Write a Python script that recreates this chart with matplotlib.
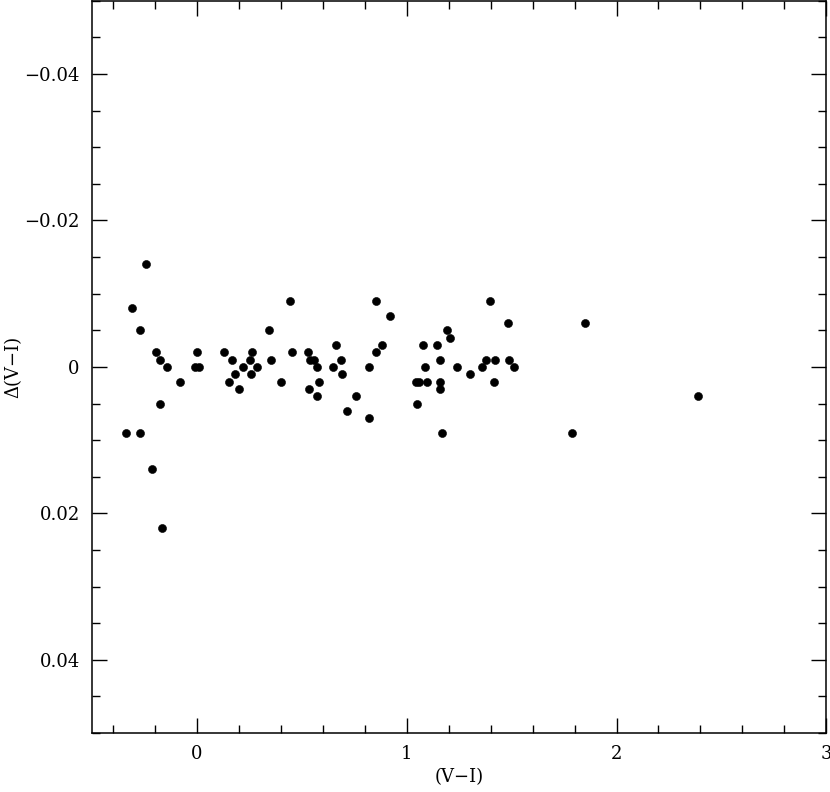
import numpy as np
import matplotlib.pyplot as plt
from matplotlib.ticker import MultipleLocator

# colour (V-I) and residual Delta(V-I)
vi = [-0.34, -0.31, -0.27, -0.27, -0.243, -0.215, -0.196, -0.177, -0.177, -0.167,
      -0.143, -0.081, -0.01, 0.01, 0.0, 0.129, 0.165, 0.153, 0.181, 0.2,
      0.221, 0.263, 0.251, 0.256, 0.288, 0.344, 0.353, 0.40, 0.442, 0.455,
      0.527, 0.54, 0.56, 0.536, 0.571, 0.582, 0.571, 0.649, 0.662, 0.687,
      0.69, 0.714, 0.76, 0.818, 0.821, 0.853, 0.853, 0.883, 0.92, 1.044,
      1.049, 1.06, 1.077, 1.087, 1.095, 1.144, 1.158, 1.158, 1.157, 1.168,
      1.193, 1.206, 1.238, 1.302, 1.359, 1.376, 1.399, 1.418, 1.421, 1.481,
      1.488, 1.512, 1.79, 1.851, 2.387]
dvi = [0.009, -0.008, -0.005, 0.009, -0.014, 0.014, -0.002, -0.001, 0.005, 0.022,
       0.0, 0.002, 0.0, 0.0, -0.002, -0.002, -0.001, 0.002, 0.001, 0.003,
       0.0, -0.002, -0.001, 0.001, 0.0, -0.005, -0.001, 0.002, -0.009, -0.002,
       -0.002, -0.001, -0.001, 0.003, 0.0, 0.002, 0.004, 0.0, -0.003, -0.001,
       0.001, 0.006, 0.004, 0.007, 0.0, -0.009, -0.002, -0.003, -0.007, 0.002,
       0.005, 0.002, -0.003, 0.0, 0.002, -0.003, -0.001, 0.002, 0.003, 0.009,
       -0.005, -0.004, 0.0, 0.001, 0.0, -0.001, -0.009, 0.002, -0.001, -0.006,
       -0.001, 0.0, 0.009, -0.006, 0.004]

plt.rcParams['font.family'] = 'DejaVu Serif'

fig = plt.figure(figsize=(8.3, 7.92), dpi=100)
ax = fig.add_axes([0.111, 0.0745, 0.8845, 0.9245])

ax.plot(vi, dvi, 'o', color='black', markersize=5.8, markeredgewidth=0.4)

ax.set_xlim(-0.5, 3)
ax.set_ylim(0.05, -0.05)
ax.xaxis.set_major_locator(MultipleLocator(1))
ax.xaxis.set_minor_locator(MultipleLocator(0.2))
ax.yaxis.set_major_locator(MultipleLocator(0.02))
ax.yaxis.set_minor_locator(MultipleLocator(0.005))
ax.xaxis.set_major_formatter(plt.FuncFormatter(lambda v, p: f'{v:g}'))
ax.yaxis.set_major_formatter(plt.FuncFormatter(
    lambda v, p: '0' if abs(v) < 1e-9 else f'{v:.2f}'.replace('-', '\u2212')))

ax.tick_params(which='both', direction='in', top=True, right=True,
               labelsize=13, width=1, pad=9)
ax.tick_params(which='major', length=11)
ax.tick_params(which='minor', length=6)
for s in ax.spines.values():
    s.set_linewidth(1.1)

ax.set_xlabel('(V\u2212I)', fontsize=13, labelpad=3)
ax.set_ylabel('\u0394(V\u2212I)', fontsize=13, labelpad=1)

fig.savefig('out.png', dpi=100)
